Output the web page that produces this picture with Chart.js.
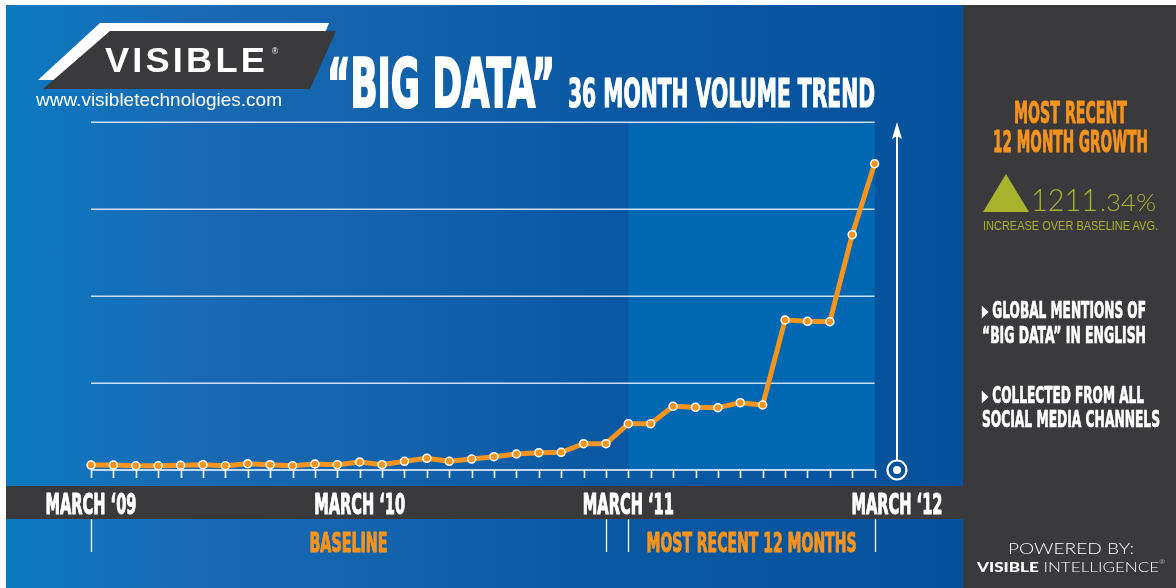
<!DOCTYPE html>
<html>
<head>
<meta charset="utf-8">
<script src="https://cdn.jsdelivr.net/npm/chart.js@4.4.1/dist/chart.umd.min.js"></script>
<style>
  html,body{margin:0;padding:0;background:#fff;}
  #root{position:relative;width:1176px;height:588px;overflow:hidden;background:#fff;}
  #blue{position:absolute;left:6px;top:5px;width:957px;height:583px;
    background:linear-gradient(to right,#0b79c1 0%,#1a6ab3 20%,#1262ab 42%,#0a57a2 65%,#06519c 100%);}
  #panel{position:absolute;left:963px;top:5px;width:213px;height:583px;background:#3a3a3c;}
  #band{position:absolute;left:6px;top:486px;width:957px;height:33px;background:#3a3a3c;}
  #logo{position:absolute;left:0;top:0;}
  canvas#c{position:absolute;left:0;top:0;}
  .t{position:absolute;white-space:nowrap;line-height:1;transform-origin:0 0;}
</style>
</head>
<body>
<div id="root">
  <div id="blue"></div>
  <div id="panel"></div>
  <div id="band"></div>
  <svg id="logo" width="400" height="120">
    <polygon points="100,23 329,23 306,79 38,80" fill="#ffffff"/>
    <polygon points="110,31 336,31 310,89 43,89" fill="#3a3a3c"/>
  </svg>
  <canvas id="c" width="1176" height="588"></canvas>
</div>
<script>
// ---------------- DATA ----------------
const categories = [
  'Mar 2009','Apr 2009','May 2009','Jun 2009','Jul 2009','Aug 2009','Sep 2009','Oct 2009','Nov 2009','Dec 2009',
  'Jan 2010','Feb 2010','Mar 2010','Apr 2010','May 2010','Jun 2010','Jul 2010','Aug 2010','Sep 2010','Oct 2010',
  'Nov 2010','Dec 2010','Jan 2011','Feb 2011','Mar 2011','Apr 2011','May 2011','Jun 2011','Jul 2011','Aug 2011',
  'Sep 2011','Oct 2011','Nov 2011','Dec 2011','Jan 2012','Feb 2012','Mar 2012'
];
const mentions = [
  5.7, 5.7, 4.9, 4.9, 5.4, 6.1, 4.9, 7.2, 6.1, 4.9,
  6.9, 6.1, 9.2, 6.1, 10.0, 13.4, 10.0, 12.6, 15.3, 18.4,
  19.9, 20.3, 30.2, 30.2, 53.2, 53.2, 73.2, 72.1, 71.6, 77.4,
  74.7, 172.4, 170.9, 170.5, 270.5, 352.0
];
const tickLabels = ['MARCH \u201809', 'MARCH \u201810', 'MARCH \u201811', 'MARCH \u201812'];
const tickIndexes = [0, 12, 24, 36];
const gridValues = [100, 200, 300, 400];
const periodLabels = ['BASELINE', 'MOST RECENT 12 MONTHS'];
const periodStart = [0, 24];
const periodEnd = [23, 35];
const yMax = 400;
const arrowIndex = 36;

// ---------------- STYLE ----------------
const ORANGE = '#f7941d';
const OLIVE = '#a8b22d';
const COND = "'Liberation Sans Narrow','DejaVu Sans Condensed','Liberation Sans',sans-serif";
const SANS = "'Liberation Sans',Arial,sans-serif";

function capRatio(ctx, weight, fam) {
  ctx.save();
  ctx.font = weight + ' 100px ' + fam;
  const r = ctx.measureText('H').actualBoundingBoxAscent / 100;
  ctx.restore();
  return r || 0.716;
}

function fitCanvasText(ctx, text, cx, capTop, capH, sxOrW, opts) {
  const weight = opts.weight || 'bold', fam = opts.fam || COND;
  const fs = capH / capRatio(ctx, weight, fam);
  ctx.save();
  ctx.font = weight + ' ' + fs + 'px ' + fam;
  const w = ctx.measureText(text).width;
  const sx = opts.width ? sxOrW / w : sxOrW;
  ctx.translate(cx, capTop + capH);
  ctx.scale(sx, 1);
  ctx.textAlign = 'center';
  ctx.textBaseline = 'alphabetic';
  ctx.fillStyle = opts.color;
  ctx.strokeStyle = opts.color;
  ctx.lineWidth = 1.1;
  ctx.lineJoin = 'round';
  ctx.fillText(text, 0, 0);
  ctx.strokeText(text, 0, 0);
  ctx.restore();
  return sx;
}

const deco = {
  id: 'deco',
  beforeDatasetsDraw(chart) {
    const ctx = chart.ctx, x = chart.scales.x, y = chart.scales.y;
    const y0 = y.getPixelForValue(0), yTop = y.getPixelForValue(yMax);
    const xs = x.getPixelForValue(0), xe = x.getPixelForValue(mentions.length - 1);
    ctx.save();
    // highlighted recent period
    const ra = x.getPixelForValue(periodStart[1]), rb = x.getPixelForValue(periodEnd[1]);
    ctx.fillStyle = '#0067b2';
    ctx.fillRect(ra, yTop, rb - ra, y0 - yTop);
    // gridlines
    ctx.strokeStyle = 'rgba(225,235,248,0.9)';
    ctx.lineWidth = 1.6;
    gridValues.forEach(v => {
      const py = Math.round(y.getPixelForValue(v)) + 0.2;
      ctx.beginPath(); ctx.moveTo(xs, py); ctx.lineTo(xe, py); ctx.stroke();
    });
    // baseline + tick marks
    ctx.strokeStyle = '#ffffff';
    ctx.lineWidth = 1.6;
    ctx.beginPath(); ctx.moveTo(xs, y0); ctx.lineTo(xe, y0); ctx.stroke();
    for (let i = 0; i < mentions.length; i++) {
      const px = Math.round(x.getPixelForValue(i)) + 0.5;
      ctx.beginPath(); ctx.moveTo(px, y0); ctx.lineTo(px, y0 + 8); ctx.stroke();
    }
    // period brackets below band
    ctx.lineWidth = 1.3;
    for (let p = 0; p < periodLabels.length; p++) {
      [periodStart[p], periodEnd[p]].forEach(i => {
        const px = Math.round(x.getPixelForValue(i)) + 0.5;
        ctx.beginPath(); ctx.moveTo(px, y0 + 49); ctx.lineTo(px, y0 + 82); ctx.stroke();
      });
    }
    // arrow
    const ax = x.getPixelForValue(arrowIndex);
    ctx.strokeStyle = '#fff'; ctx.fillStyle = '#fff'; ctx.lineWidth = 2;
    ctx.beginPath(); ctx.moveTo(ax, yTop + 14); ctx.lineTo(ax, y0 - 10); ctx.stroke();
    ctx.beginPath(); ctx.moveTo(ax, yTop); ctx.lineTo(ax + 5, yTop + 17); ctx.lineTo(ax, yTop + 14); ctx.lineTo(ax - 5, yTop + 17); ctx.closePath(); ctx.fill();
    ctx.beginPath(); ctx.arc(ax, y0, 9.5, 0, Math.PI * 2); ctx.lineWidth = 2.2; ctx.stroke();
    ctx.beginPath(); ctx.arc(ax, y0, 4, 0, Math.PI * 2); ctx.fill();
    // band month labels
    let sx = null;
    tickLabels.forEach((t, k) => {
      const px = x.getPixelForValue(tickIndexes[k]);
      if (sx === null) sx = fitCanvasText(ctx, t, px, y0 + 23, 21, 91, {width: true, color: '#fff'});
      else fitCanvasText(ctx, t, px, y0 + 23, 21, sx, {color: '#fff'});
    });
    // period labels
    const pw = [78, 210];
    periodLabels.forEach((t, p) => {
      const cx = (x.getPixelForValue(periodStart[p]) + x.getPixelForValue(periodEnd[p])) / 2;
      fitCanvasText(ctx, t, cx, y0 + 62, 20, pw[p], {width: true, color: ORANGE});
    });
    ctx.restore();
  }
};

new Chart(document.getElementById('c'), {
  type: 'line',
  data: {
    labels: categories,
    datasets: [{
      data: mentions,
      borderColor: ORANGE,
      borderWidth: 5,
      pointRadius: 4,
      pointBorderWidth: 1.5,
      pointBorderColor: '#ffffff',
      pointBackgroundColor: ORANGE,
      tension: 0,
      clip: false
    }]
  },
  options: {
    responsive: false,
    animation: false,
    devicePixelRatio: 1,
    layout: {padding: {left: 91, right: 279, top: 122, bottom: 118}},
    plugins: {legend: {display: false}, tooltip: {enabled: false}},
    scales: {
      x: {type: 'category', display: false, offset: false},
      y: {display: false, min: 0, max: yMax}
    }
  },
  plugins: [deco]
});

// ---------------- DOM TEXT ----------------
const root = document.getElementById('root');
const mctx = document.createElement('canvas').getContext('2d');
function place(s) {
  const weight = s.weight || 700, fam = s.fam || COND;
  const fs = s.ch / capRatio(mctx, weight, fam);
  const d = document.createElement('div');
  d.className = 't';
  d.style.fontFamily = fam;
  d.style.fontWeight = weight;
  d.style.fontSize = fs + 'px';
  d.style.color = s.color || '#fff';
  if (s.ls) d.style.letterSpacing = s.ls + 'px';
  if (s.stroke) d.style.webkitTextStroke = s.stroke + 'px ' + (s.color || '#fff');
  d.innerHTML = s.html + '<span style="display:inline-block;width:0;height:0;vertical-align:baseline"></span>';
  d.style.zIndex = 5;
  root.appendChild(d);
  const bl = d.lastChild.offsetTop;
  const nat = d.getBoundingClientRect().width;
  const sx = s.w / nat;
  d.style.top = (s.capTop + s.ch - bl) + 'px';
  d.style.left = (s.align === 'center' ? s.x - s.w / 2 : s.x) + 'px';
  d.style.transform = 'scaleX(' + sx + ')';
}
const texts = [
  {html: 'VISIBLE', x: 105, capTop: 48, ch: 24, w: 163, fam: SANS, ls: 3},
  {html: '\u00AE', x: 272, capTop: 48, ch: 6, w: 6, fam: SANS, weight: 400},
  {html: 'www.visibletechnologies.com', x: 36, capTop: 93, ch: 13, w: 246, fam: SANS, weight: 400},
  {html: '\u201CBIG DATA\u201D', x: 327, capTop: 57, ch: 50, w: 228, stroke: 2.2},
  {html: '36 MONTH VOLUME TREND', x: 568, capTop: 79, ch: 28, w: 307, stroke: 1.2},
  {html: 'MOST RECENT', x: 1070, align: 'center', capTop: 101, ch: 21.5, w: 113, color: ORANGE, stroke: 0.9},
  {html: '12 MONTH GROWTH', x: 1070, align: 'center', capTop: 130, ch: 21.5, w: 155, color: ORANGE, stroke: 0.9},
  {html: '1211', x: 1031, capTop: 188, ch: 23, w: 67, fam: "Lato,'Liberation Sans',sans-serif", weight: 300, color: OLIVE},
  {html: '.34%', x: 1100, capTop: 194, ch: 17, w: 56, fam: "Lato,'Liberation Sans',sans-serif", weight: 300, color: OLIVE},
  {html: 'INCREASE OVER BASELINE AVG.', x: 983, capTop: 221, ch: 9, w: 175, fam: SANS, weight: 400, color: OLIVE},
  {html: '\u25B8 GLOBAL MENTIONS OF', x: 982, capTop: 301.5, ch: 16.8, w: 164, stroke: 0.7},
  {html: '\u201CBIG DATA\u201D IN ENGLISH', x: 982, capTop: 326.5, ch: 16.8, w: 164, stroke: 0.7},
  {html: '\u25B8 COLLECTED FROM ALL', x: 982, capTop: 386, ch: 16.8, w: 162, stroke: 0.7},
  {html: 'SOCIAL MEDIA CHANNELS', x: 982, capTop: 410.5, ch: 16.8, w: 178, stroke: 0.7},
  {html: 'POWERED BY:', x: 1008, capTop: 542, ch: 11.5, w: 126, fam: "Lato,'Liberation Sans',sans-serif", weight: 300},
  {html: '<b style="font-weight:900">VISIBLE</b> INTELLIGENCE<span style="font-size:40%;vertical-align:top">\u00AE</span>', x: 977, capTop: 562, ch: 10, w: 188, fam: "Lato,'Liberation Sans',sans-serif", weight: 300}
];
texts.forEach(place);
// triangle glyph in growth box (shape)
const tri = document.createElementNS('http://www.w3.org/2000/svg', 'svg');
tri.setAttribute('width', '60'); tri.setAttribute('height', '50');
tri.style.position = 'absolute'; tri.style.left = '975px'; tri.style.top = '168px';
tri.innerHTML = '<polygon points="31,6 54,44 8,44" fill="' + OLIVE + '"/>';
root.appendChild(tri);
</script>
</body>
</html>
